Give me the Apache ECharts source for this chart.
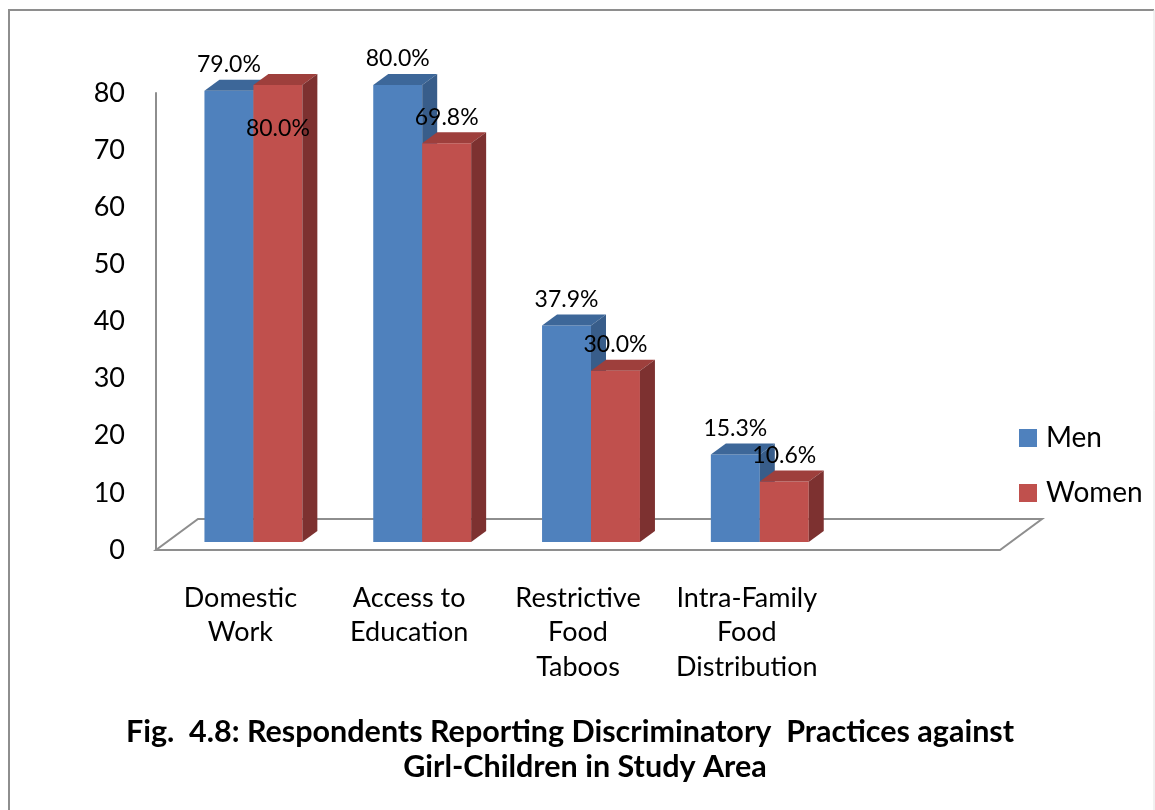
<!DOCTYPE html>
<html>
<head>
<meta charset="utf-8">
<title>Discriminatory Practices against Girl-Children</title>
<script src="https://cdn.jsdelivr.net/npm/echarts@6/dist/echarts.min.js"></script>
<style>
  html, body { margin: 0; padding: 0; background: #ffffff; }
  #chart { width: 1155px; height: 810px; }
</style>
</head>
<body>
<div id="chart"></div>
<script>
// ---- data ----
const categories = ['Domestic\nWork', 'Access to\nEducation', 'Restrictive\nFood\nTaboos', 'Intra-Family\nFood\nDistribution', ''];
const seriesNames = ['Men', 'Women'];
const menValues = [79.0, 80.0, 37.9, 15.3];
const womenValues = [80.0, 69.8, 30.0, 10.6];
const yTicks = { min: 0, max: 80, interval: 10 };
const titleLines = ['Fig.  4.8: Respondents Reporting Discriminatory  Practices against', 'Girl-Children in Study Area'];

// ---- style ----
const FONT = 'Lato, "Open Sans", sans-serif';
const FLOOR_DEPTH = [42, -31];   // floor depth projection (px)
const BAR_SHIFT = [13, -8];      // bar front face offset into the floor
const BAR_DEPTH = [15, -11];     // bar thickness projection
const BAR_FRAC = 0.29;           // bar width as a fraction of the category band
const LABEL_GAP = 26;            // label centre above the bar's front top
const labelShift = { 'Women-0': 44 };  // this label sits inside its bar

const palette = {
  Men:   { front: '#4F81BD', top: '#3D6799', side: '#385D8A' },
  Women: { front: '#C0504D', top: '#9E3F3C', side: '#7D3130' }
};

function barRenderer(name, side) {
  const col = palette[name];
  return function (params, api) {
    const ci = api.value(0);
    const v = api.value(1);
    const base = api.coord([ci, 0]);
    const top = api.coord([ci, v]);
    const band = api.size([1, 0])[0];
    const w = band * BAR_FRAC;
    const x0 = base[0] + BAR_SHIFT[0] + (side === 0 ? -w : 0);
    const x1 = x0 + w;
    const yb = base[1] + BAR_SHIFT[1];
    const yt = top[1] + BAR_SHIFT[1];
    const dx = BAR_DEPTH[0], dy = BAR_DEPTH[1];
    const key = name + '-' + params.dataIndex;
    const ly = labelShift[key] !== undefined ? yt + labelShift[key] : yt - LABEL_GAP;
    return {
      type: 'group',
      children: [
        { type: 'rect', shape: { x: x0, y: yt, width: w, height: yb - yt },
          style: { fill: col.front } },
        { type: 'polygon', shape: { points: [[x0, yt], [x1, yt], [x1 + dx, yt + dy], [x0 + dx, yt + dy]] },
          style: { fill: col.top } },
        { type: 'polygon', shape: { points: [[x1, yt], [x1 + dx, yt + dy], [x1 + dx, yb + dy], [x1, yb]] },
          style: { fill: col.side } },
        { type: 'text', z2: 10,
          style: { x: (x0 + x1) / 2, y: ly, text: v.toFixed(1) + '%',
                   align: 'center', verticalAlign: 'middle',
                   font: '23px ' + FONT, fill: '#000000' } }
      ]
    };
  };
}

function floorRenderer(params, api) {
  const cs = params.coordSys;
  const y0 = api.coord([0, 0])[1];
  const xl = cs.x, xr = cs.x + cs.width;
  const dx = FLOOR_DEPTH[0], dy = FLOOR_DEPTH[1];
  return {
    type: 'polygon',
    shape: { points: [[xl, y0], [xr, y0], [xr + dx, y0 + dy], [xl + dx, y0 + dy]] },
    style: { fill: '#ffffff', stroke: '#8E8E8E', lineWidth: 2 }
  };
}

const chart = echarts.init(document.getElementById('chart'), null, { renderer: 'canvas' });

chart.setOption({
  backgroundColor: '#ffffff',
  animation: false,
  title: [
    { text: titleLines[0], left: 565, top: 712, textAlign: 'center',
      textStyle: { fontFamily: FONT, fontWeight: 'bold', fontSize: 30.5, color: '#000000' } },
    { text: titleLines[1], left: 580, top: 747, textAlign: 'center',
      textStyle: { fontFamily: FONT, fontWeight: 'bold', fontSize: 30.5, color: '#000000' } }
  ],
  legend: {
    data: seriesNames,
    orient: 'vertical',
    left: 1014,
    top: 419,
    itemWidth: 18,
    itemHeight: 18,
    itemGap: 27,
    icon: 'rect',
    textStyle: { fontFamily: FONT, fontSize: 28, color: '#000000', padding: [0, 0, 0, 4] }
  },
  grid: { left: 156, right: 155, top: 93, bottom: 260, containLabel: false },
  xAxis: {
    type: 'category',
    data: categories,
    boundaryGap: true,
    axisLine: { show: false },
    axisTick: { show: false },
    axisLabel: {
      interval: 0, margin: 31, verticalAlign: 'top',
      fontFamily: FONT, fontSize: 27, lineHeight: 34.5, color: '#000000'
    },
    splitLine: { show: false }
  },
  yAxis: {
    type: 'value',
    min: yTicks.min, max: yTicks.max, interval: yTicks.interval,
    axisLine: { show: true, lineStyle: { color: '#8E8E8E', width: 2 } },
    axisTick: { show: false },
    splitLine: { show: false },
    axisLabel: { margin: 31, fontFamily: FONT, fontSize: 27, color: '#000000', padding: [6, 0, 0, 0] }
  },
  graphic: [
    { type: 'polyline', silent: true,
      shape: { points: [[9, 830], [9, 10], [1154, 10]] },
      style: { stroke: '#8E8E8E', lineWidth: 2, fill: null } },
    { type: 'line', silent: true,
      shape: { x1: 1154, y1: 10, x2: 1154, y2: 830 },
      style: { stroke: '#E2E2E2', lineWidth: 1 } }
  ],
  series: [
    { type: 'custom', name: '__floor', renderItem: floorRenderer, data: [[0, 0]], z: 1, silent: true },
    { type: 'custom', name: seriesNames[0], renderItem: barRenderer('Men', 0), z: 2,
      itemStyle: { color: palette.Men.front },
      data: menValues.map((v, i) => [i, v]) },
    { type: 'custom', name: seriesNames[1], renderItem: barRenderer('Women', 1), z: 3,
      itemStyle: { color: palette.Women.front },
      data: womenValues.map((v, i) => [i, v]) }
  ]
});
</script>
</body>
</html>
